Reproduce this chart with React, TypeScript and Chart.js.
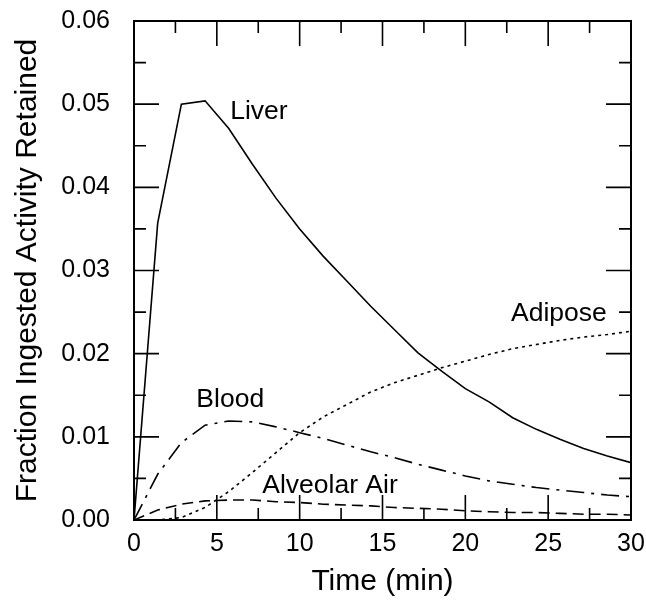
import React, { useEffect, useRef } from "react";
import { Chart, registerables } from "chart.js";

Chart.register(...registerables);

// Sample times (min)
const times = [0, 1.43, 2.86, 4.29, 5.71, 7.14, 8.57, 10, 11.43, 12.86, 14.29, 15.71, 17.14, 18.57, 20, 21.43, 22.86, 24.29, 25.71, 27.14, 28.57, 30];

// Fraction of ingested activity retained
const liver = [0, 0.0357, 0.05, 0.0504, 0.0471, 0.0428, 0.0387, 0.035, 0.0317, 0.0287, 0.0257, 0.0229, 0.0201, 0.0179, 0.0158, 0.0142, 0.0123, 0.0109, 0.0097, 0.0086, 0.0077, 0.0069];
const adipose = [0, 0.0, 0.0003, 0.0015, 0.0034, 0.0057, 0.0081, 0.0105, 0.0124, 0.0139, 0.0154, 0.0165, 0.0174, 0.0183, 0.0191, 0.0199, 0.0206, 0.0211, 0.0216, 0.022, 0.0223, 0.0227];
const blood = [0, 0.0055, 0.0093, 0.0114, 0.0119, 0.0118, 0.0112, 0.0105, 0.0098, 0.009, 0.0082, 0.0075, 0.0067, 0.006, 0.0053, 0.0047, 0.0043, 0.0039, 0.0036, 0.0033, 0.003, 0.0028];
const alveolarAir = [0, 0.0012, 0.0019, 0.0023, 0.0024, 0.0024, 0.0022, 0.0021, 0.0019, 0.0018, 0.0017, 0.0015, 0.0014, 0.0013, 0.0011, 0.001, 0.0009, 0.0009, 0.0008, 0.0007, 0.0007, 0.0006];

// Axis ranges / ticks
const xMin = 0;
const xMax = 30;
const xMajorStep = 5;
const xMinorStep = 2.5;
const yMin = 0;
const yMax = 0.06;
const yMajorStep = 0.01;
const yMinorStep = 0.005;

// In-plot labels (centre positions in data units)
const labelNames = ["Liver", "Adipose", "Blood", "Alveolar Air"];
const labelX = [7.54, 25.65, 5.81, 11.83];
const labelY = [0.0491, 0.0248, 0.01447, 0.00414];

const FONT = "'Liberation Sans', Arial, Helvetica, sans-serif";

const framePlugin = {
  id: "framePlugin",
  afterDraw(chart: any) {
    const { ctx, chartArea, scales } = chart;
    const xs = scales.x;
    const ys = scales.y;
    const { left, right, top, bottom } = chartArea;
    const major = 25;
    const minor = 12;
    ctx.save();
    ctx.strokeStyle = "#000";
    ctx.lineWidth = 1.6;
    ctx.beginPath();
    const nx = Math.round((xMax - xMin) / xMinorStep);
    for (let k = 0; k <= nx; k++) {
      const v = xMin + k * xMinorStep;
      const len = k % 2 === 0 ? major : minor;
      const px = xs.getPixelForValue(v);
      ctx.moveTo(px, bottom);
      ctx.lineTo(px, bottom - len);
      ctx.moveTo(px, top);
      ctx.lineTo(px, top + len);
    }
    const ny = Math.round((yMax - yMin) / yMinorStep);
    for (let k = 0; k <= ny; k++) {
      const v = yMin + k * yMinorStep;
      const len = k % 2 === 0 ? major : minor;
      const py = ys.getPixelForValue(v);
      ctx.moveTo(left, py);
      ctx.lineTo(left + len, py);
      ctx.moveTo(right, py);
      ctx.lineTo(right - len, py);
    }
    ctx.stroke();
    ctx.lineWidth = 2;
    ctx.strokeRect(left, top, right - left, bottom - top);

    ctx.fillStyle = "#000";
    ctx.font = "26.5px " + FONT;
    ctx.textAlign = "center";
    ctx.textBaseline = "middle";
    for (let i = 0; i < labelNames.length; i++) {
      ctx.fillText(labelNames[i], xs.getPixelForValue(labelX[i]), ys.getPixelForValue(labelY[i]));
    }
    ctx.restore();
  },
};

function toPoints(vals: number[]) {
  return times.map((t, i) => ({ x: t, y: vals[i] }));
}

export default function App() {
  const ref = useRef<HTMLCanvasElement | null>(null);

  useEffect(() => {
    document.body.style.margin = "0";
    const canvas = ref.current;
    if (!canvas) return;
    const common = {
      borderColor: "#000",
      backgroundColor: "#000",
      borderWidth: 1.6,
      pointRadius: 0,
      tension: 0,
      fill: false,
    };
    const chart = new Chart(canvas, {
      type: "line",
      data: {
        datasets: [
          { ...common, label: "Liver", data: toPoints(liver) },
          { ...common, label: "Adipose", data: toPoints(adipose), borderDash: [3, 4] },
          { ...common, label: "Blood", data: toPoints(blood), borderDash: [18, 7, 3, 7] },
          { ...common, label: "Alveolar Air", data: toPoints(alveolarAir), borderDash: [11, 6] },
        ],
      },
      options: {
        responsive: false,
        animation: false,
        devicePixelRatio: 1,
        layout: { padding: { top: 21, right: 15, left: 0, bottom: 0 } },
        plugins: {
          legend: { display: false },
          tooltip: { enabled: false },
        },
        scales: {
          x: {
            type: "linear",
            min: xMin,
            max: xMax,
            grid: { display: false, drawTicks: false },
            border: { display: false },
            ticks: {
              stepSize: xMajorStep,
              color: "#000",
              padding: 9,
              maxRotation: 0,
              font: { family: FONT, size: 25 },
              callback: (v: any) => String(v),
            },
            title: {
              display: true,
              text: "Time (min)",
              color: "#000",
              font: { family: FONT, size: 30 },
              padding: { top: 0, bottom: 0 },
            },
            afterFit: (s: any) => {
              s.height = 80;
              s.paddingLeft = 0;
              s.paddingRight = 0;
            },
          },
          y: {
            type: "linear",
            min: yMin,
            max: yMax,
            grid: { display: false, drawTicks: false },
            border: { display: false },
            ticks: {
              stepSize: yMajorStep,
              color: "#000",
              padding: 24,
              font: { family: FONT, size: 25 },
              callback: (v: any) => Number(v).toFixed(2),
            },
            title: {
              display: true,
              text: "Fraction Ingested Activity Retained",
              color: "#000",
              font: { family: FONT, size: 30 },
              padding: { top: 10, bottom: 0 },
            },
            afterFit: (s: any) => {
              s.width = 134;
              s.paddingTop = 0;
              s.paddingBottom = 0;
            },
          },
        },
      },
      plugins: [framePlugin],
    } as any);
    return () => chart.destroy();
  }, []);

  return (
    <div style={{ width: 646, height: 600 }}>
      <canvas ref={ref} width={646} height={600} style={{ display: "block", width: 646, height: 600 }} />
    </div>
  );
}
